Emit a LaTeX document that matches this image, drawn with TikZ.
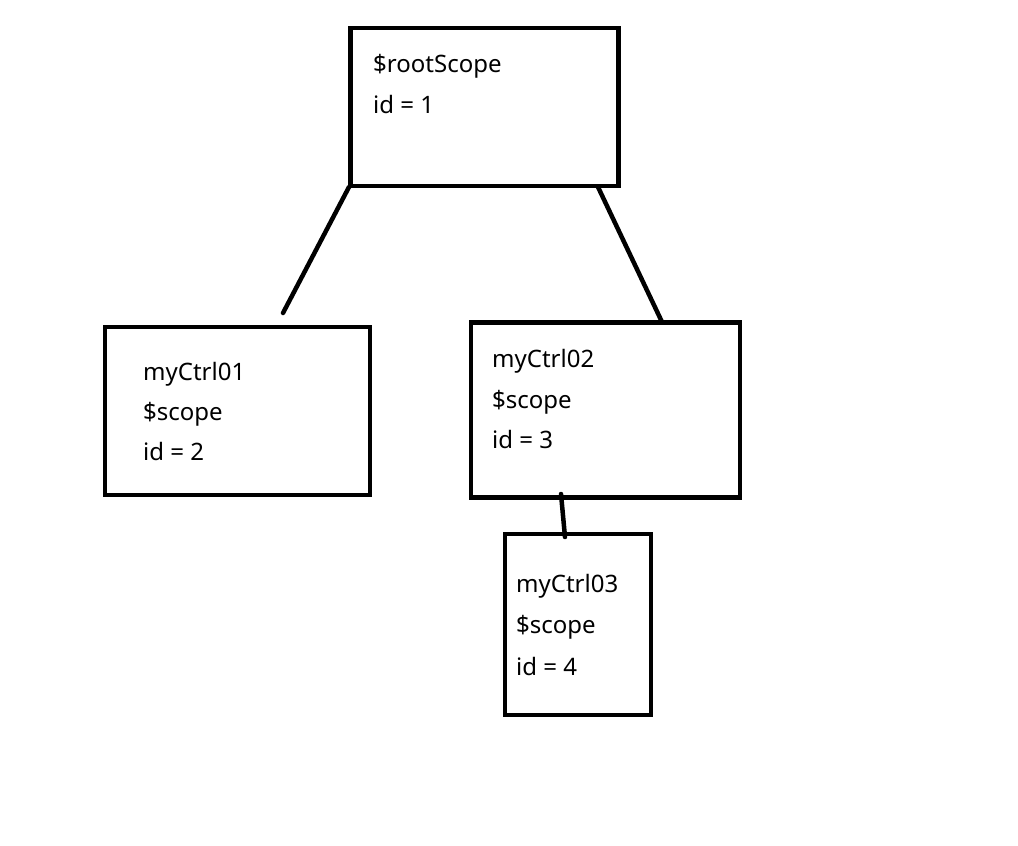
\documentclass[tikz,border=0pt]{standalone}
\usepackage{fontspec}
\setmainfont{Noto Sans}
\begin{document}
\begin{tikzpicture}[x=1pt,y=-1pt,
  box/.style={draw=black,line width=4.5pt,inner sep=0pt,outer sep=0pt,anchor=north west},
  lbl/.style={anchor=base west,inner sep=0pt,font=\fontsize{24}{28}\selectfont},
  link/.style={draw=black,line width=4.5pt,line cap=round}]
\useasboundingbox[fill=white] (0,0) rectangle (1018,846);
% boxes
\node[box,minimum width=268pt,minimum height=158pt] (root) at (350.5,28) {};
\node[box,minimum width=265pt,minimum height=168pt] (c1) at (105,327) {};
\node[box,minimum width=269pt,minimum height=175pt] (c2) at (471,322.5) {};
\node[box,minimum width=146pt,minimum height=181pt] (c3) at (505,534) {};
% texts
\node[lbl] (r1) at (373,72) {\$rootScope};
\node[lbl] (r2) at (373,113) {id = 1};
\node[lbl] (a1) at (143,380) {myCtrl01};
\node[lbl] (a2) at (143,420) {\$scope};
\node[lbl] (a3) at (143,460) {id = 2};
\node[lbl] (b1) at (492,367) {myCtrl02};
\node[lbl] (b2) at (492,408) {\$scope};
\node[lbl] (b3) at (492,448) {id = 3};
\node[lbl] (d1) at (516,592) {myCtrl03};
\node[lbl] (d2) at (516,633) {\$scope};
\node[lbl] (d3) at (516,675) {id = 4};
% connector end points
\coordinate (rl) at (349,187);
\coordinate (free) at (283,313);
\coordinate (rr) at (598,187);
\coordinate (c2t) at (662,322);
\coordinate (c2b) at (561,494);
\coordinate (c3t) at (565,537);
\draw[link] (rl) -- (free);
\draw[link] (rr) -- (c2t);
\draw[link] (c2b) -- (c3t);
\end{tikzpicture}
\end{document}
